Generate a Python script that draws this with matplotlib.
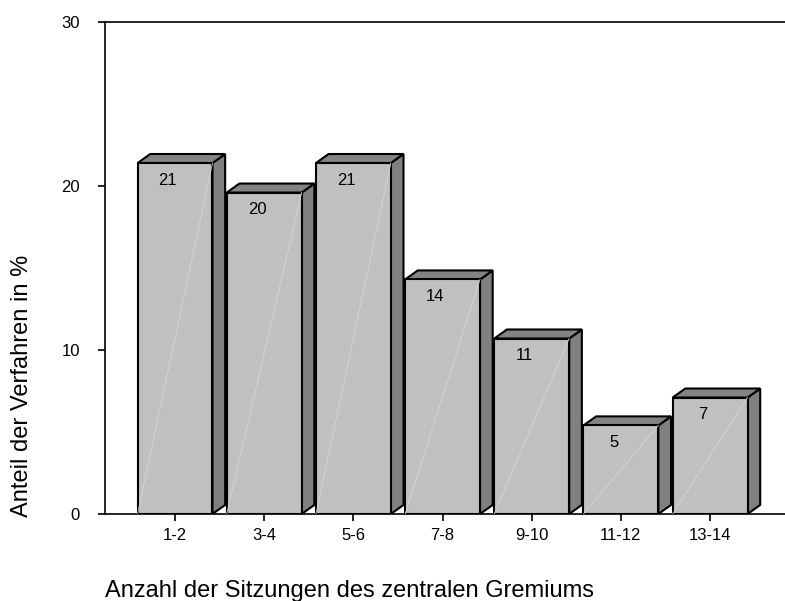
import matplotlib
matplotlib.use("Agg")
import matplotlib.pyplot as plt
from matplotlib.patches import Polygon

plt.rcParams['font.family'] = ['Liberation Sans', 'DejaVu Sans']

# data
categories = ["1-2", "3-4", "5-6", "7-8", "9-10", "11-12", "13-14"]
shares = [21.4, 19.6, 21.4, 14.3, 10.7, 5.4, 7.1]  # Anteil in %

fig = plt.figure(figsize=(7.85, 6.01), dpi=100)
ax = fig.add_axes([0.1338, 0.1448, 0.8662, 0.8186])

width = 0.84
dx, dy = 0.142, 0.55  # depth of the pseudo-3D bars

for i, h in enumerate(shares):
    x0 = i - width / 2
    x1 = i + width / 2
    front = Polygon([(x0, 0), (x1, 0), (x1, h), (x0, h)], closed=True,
                    facecolor="#c0c0c0", edgecolor="black", lw=1.5, zorder=3 + i)
    side = Polygon([(x1, 0), (x1 + dx, dy), (x1 + dx, h + dy), (x1, h)], closed=True,
                   facecolor="#808080", edgecolor="black", lw=1.5, zorder=3 + i)
    top = Polygon([(x0, h), (x1, h), (x1 + dx, h + dy), (x0 + dx, h + dy)], closed=True,
                  facecolor="#838383", edgecolor="black", lw=1.5, zorder=3 + i)
    ax.add_patch(side)
    ax.add_patch(top)
    ax.add_patch(front)
    # faint highlight diagonal on the front face
    ax.plot([x0, x1], [0, h], color="#d6d6d6", lw=0.6, zorder=3.5 + i)
    ax.text(i - 0.08, h - 1.04, str(round(h)), ha="center", va="center",
            fontsize=12, zorder=20)

ax.set_xlim(-0.785, 6.84)
ax.set_ylim(0, 30)
ax.set_yticks([0, 10, 20, 30])
ax.set_xticks(range(len(categories)))
ax.set_xticklabels(categories)
ax.tick_params(axis="y", length=5, width=1.2, pad=13, labelsize=12)
ax.tick_params(axis="x", length=5, width=1.2, pad=5, labelsize=12)

ax.spines["right"].set_visible(False)
for s in ["left", "top", "bottom"]:
    ax.spines[s].set_linewidth(1.2)

fig.text(0.028, 0.358, "Anteil der Verfahren in %", rotation=90,
         ha="center", va="center", fontsize=17)
fig.text(0.134, 0.0067, "Anzahl der Sitzungen des zentralen Gremiums",
         ha="left", va="baseline", fontsize=17)

fig.savefig("out.png", dpi=100)
